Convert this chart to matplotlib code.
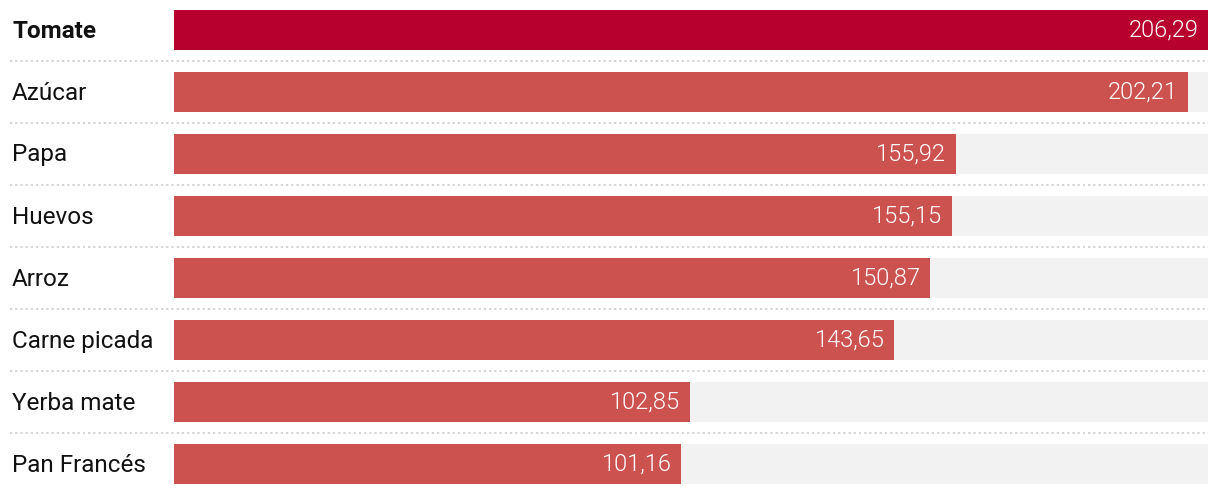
import matplotlib
matplotlib.use("Agg")
import matplotlib.pyplot as plt
from matplotlib.lines import Line2D

productos = ["Tomate", "Azúcar", "Papa", "Huevos", "Arroz", "Carne picada", "Yerba mate", "Pan Francés"]
valores = [206.29, 202.21, 155.92, 155.15, 150.87, 143.65, 102.85, 101.16]
etiquetas = ["206,29", "202,21", "155,92", "155,15", "150,87", "143,65", "102,85", "101,16"]

W, H = 1220, 494
fig = plt.figure(figsize=(W / 100, H / 100), dpi=100)
ax = fig.add_axes([174 / W, 0, (1208 - 174) / W, 1])
ax.set_xlim(0, max(valores))
ax.set_ylim(7.484, -0.484)
ax.axis("off")

y = range(len(productos))
ax.barh(y, [max(valores)] * len(productos), height=40 / 62, color="#f2f2f2")
colores = ["#b8002e"] + ["#cc524f"] * (len(productos) - 1)
ax.barh(y, valores, height=40 / 62, color=colores)

for i, (p, v, e) in enumerate(zip(productos, valores, etiquetas)):
    ax.text(v - 1.9, i, e, ha="right", va="center", color="white",
            fontsize=17, family="Roboto", fontweight=300)
    fig.text(12 / W, 1 - (31 + 62 * i) / H, p, ha="left", va="center",
             fontsize=17.5, family="Roboto",
             fontweight="bold" if i == 0 else "normal", color="#111111")

for i in range(len(productos) - 1):
    yy = 1 - (61 + 62 * i) / H
    fig.add_artist(Line2D([10 / W, 1208 / W], [yy, yy], color="#d4d4d4",
                          linestyle=(0, (1, 1.5)), linewidth=1.5))

fig.savefig("out.png", dpi=100)
